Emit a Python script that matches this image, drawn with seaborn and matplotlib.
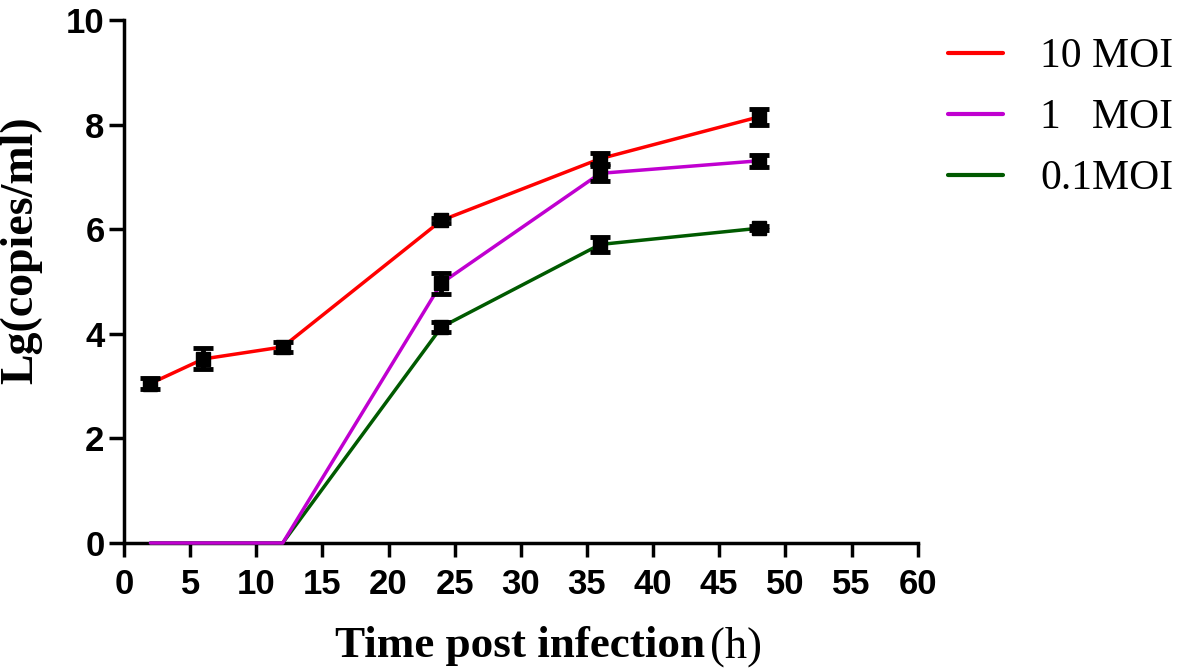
"""
Viral growth curve: Lg(copies/ml) vs time post infection for three MOIs.
"""

import matplotlib
matplotlib.use("Agg")
import matplotlib.pyplot as plt
import numpy as np
import pandas as pd
import seaborn as sns

# ── Data ────────────────────────────────────────────────────
hours = [2, 6, 12, 24, 36, 48]
series_names = ["10 MOI", "1   MOI", "0.1MOI"]
moi10_mean = [3.05, 3.52, 3.75, 6.17, 7.35, 8.15]
moi10_err = [0.10, 0.20, 0.10, 0.05, 0.10, 0.15]
moi1_mean = [0.0, 0.0, 0.0, 4.97, 7.07, 7.31]
moi1_err = [0.0, 0.0, 0.0, 0.20, 0.15, 0.12]
moi01_mean = [0.0, 0.0, 0.0, 4.13, 5.71, 6.02]
moi01_err = [0.0, 0.0, 0.0, 0.10, 0.15, 0.04]
x_ticks = list(range(0, 61, 5))
y_ticks = list(range(0, 11, 2))

colors = {"10 MOI": "#ff0000", "1   MOI": "#c000d0", "0.1MOI": "#005a00"}

df = pd.concat([
    pd.DataFrame({"hours": hours, "value": moi10_mean, "err": moi10_err, "moi": series_names[0]}),
    pd.DataFrame({"hours": hours, "value": moi1_mean, "err": moi1_err, "moi": series_names[1]}),
    pd.DataFrame({"hours": hours, "value": moi01_mean, "err": moi01_err, "moi": series_names[2]}),
], ignore_index=True)

sns.set_style("ticks")
plt.rcParams["font.family"] = ["Liberation Sans", "DejaVu Sans"]
plt.rcParams["text.color"] = "black"
plt.rcParams["axes.labelcolor"] = "black"
plt.rcParams["xtick.color"] = "black"
plt.rcParams["ytick.color"] = "black"
plt.rcParams["axes.edgecolor"] = "black"

SERIF = "Liberation Serif"

fig = plt.figure(figsize=(11.81, 6.72), dpi=100)
ax = fig.add_axes([0.105, 0.192, 0.672, 0.778])

# draw lowest first so the 10 MOI line sits on top
for name in reversed(series_names):
    sub = df[df["moi"] == name]
    sns.lineplot(data=sub, x="hours", y="value", color=colors[name], lw=2.5,
                 label=name, ax=ax, clip_on=False, zorder=3)
    nz = sub[sub["value"] > 0]
    ax.errorbar(nz["hours"], nz["value"], yerr=nz["err"], fmt="s",
                color="black", ms=10, elinewidth=3.5, capsize=7, capthick=3.5,
                zorder=4, clip_on=False)

ax.set_xlim(0, 60)
ax.set_ylim(0, 10)
ax.set_xticks(x_ticks)
ax.set_yticks(y_ticks)
for sp in ["top", "right"]:
    ax.spines[sp].set_visible(False)
for sp in ["left", "bottom"]:
    ax.spines[sp].set_linewidth(2.5)
ax.tick_params(axis="x", width=2.5, length=10, direction="out", pad=8)
ax.tick_params(axis="y", width=2.5, length=11, direction="out", pad=3)
for lbl in ax.get_xticklabels() + ax.get_yticklabels():
    lbl.set_fontsize(25)
    lbl.set_fontweight("bold")

ax.set_ylabel("Lg(copies/ml)", fontsize=33, fontweight="bold", family=SERIF)
ax.yaxis.set_label_coords(-0.103, 0.56)
ax.set_xlabel("")
xl = fig.text(0.284, 0.022, "Time post infection", fontsize=32.5,
              fontweight="bold", family=SERIF, ha="left", va="baseline")
fig.canvas.draw()
fig.text(xl.get_window_extent().x1 / fig.bbox.width + 0.004, 0.022, "(h)",
         fontsize=32, family=SERIF, ha="left", va="baseline")

handles, labels = ax.get_legend_handles_labels()
order = [labels.index(n) for n in series_names]
leg = ax.legend([handles[i] for i in order], [labels[i] for i in order],
                loc="upper left", bbox_to_anchor=(1.038, 0.966), frameon=False,
                prop={"family": SERIF, "size": 30}, borderpad=0,
                borderaxespad=0, handlelength=1.33, handletextpad=0.88,
                labelspacing=0.54)
for line in leg.get_lines():
    line.set_linewidth(3)

fig.savefig("out.png", dpi=100)
